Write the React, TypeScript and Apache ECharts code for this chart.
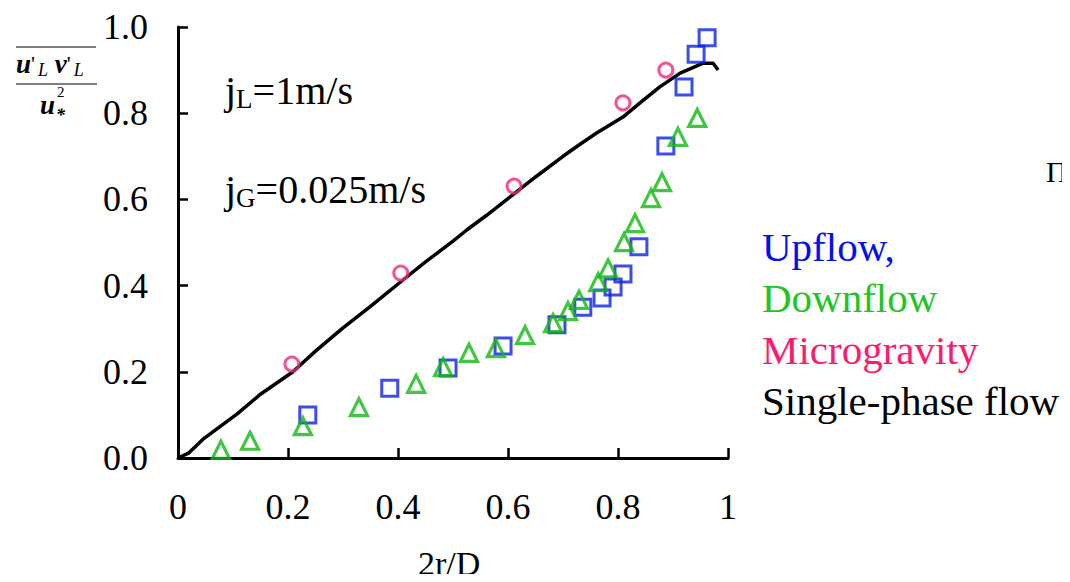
import React, { useEffect, useRef } from "react";
import * as echarts from "echarts";

const xTicks = [0, 0.2, 0.4, 0.6, 0.8, 1];
const yTicks = [0, 0.2, 0.4, 0.6, 0.8, 1.0];

const upflow: [number, number][] = [
  [0.236, 0.1], [0.385, 0.162], [0.491, 0.209], [0.591, 0.26], [0.689, 0.309],
  [0.736, 0.35], [0.771, 0.371], [0.791, 0.397], [0.809, 0.427], [0.838, 0.49],
  [0.887, 0.724], [0.92, 0.861], [0.942, 0.937], [0.962, 0.975],
];

const downflow: [number, number][] = [
  [0.078, 0.019], [0.131, 0.04], [0.227, 0.074], [0.329, 0.118], [0.433, 0.172],
  [0.482, 0.211], [0.529, 0.244], [0.578, 0.255], [0.631, 0.285], [0.682, 0.313],
  [0.709, 0.341], [0.729, 0.367], [0.764, 0.408], [0.782, 0.44], [0.811, 0.501],
  [0.831, 0.545], [0.86, 0.603], [0.88, 0.64], [0.909, 0.745], [0.944, 0.789],
];

const microgravity: [number, number][] = [
  [0.207, 0.218], [0.405, 0.429], [0.611, 0.631], [0.809, 0.824], [0.887, 0.9],
];

const singlePhase: [number, number][] = [
  [0, 0], [0.02, 0.012], [0.045, 0.043], [0.107, 0.102], [0.15, 0.148], [0.209, 0.2],
  [0.25, 0.248], [0.3, 0.302], [0.35, 0.352], [0.409, 0.413], [0.45, 0.455],
  [0.5, 0.503], [0.525, 0.529], [0.56, 0.562], [0.604, 0.606], [0.65, 0.652],
  [0.7, 0.7], [0.731, 0.728], [0.761, 0.754], [0.809, 0.791], [0.84, 0.824],
  [0.876, 0.861], [0.913, 0.893], [0.955, 0.916], [0.973, 0.916], [0.982, 0.9],
];

const legendLabels = ["Upflow,", "Downflow", "Microgravity", "Single-phase flow"];
const legendColors = ["#0010ee", "#22c422", "#ff1a6e", "#000000"];

const FONT = "'Liberation Serif', 'Times New Roman', serif";

export default function App() {
  const ref = useRef<HTMLDivElement>(null);
  useEffect(() => {
    if (!ref.current) return;
    const chart = echarts.init(ref.current, null, { renderer: "svg" });
    const hollow = (c: string, w: number) => ({
      color: "rgba(0,0,0,0)",
      borderColor: c,
      borderWidth: w,
    });
    const subRich = {
      n: { fontFamily: FONT, fontSize: 40, fill: "#000" },
      s: { fontFamily: FONT, fontSize: 27, fill: "#000", padding: [17, 0, 0, 0] },
    };
    chart.setOption({
      animation: false,
      backgroundColor: "#ffffff",
      grid: { left: 178, top: 27, width: 550, height: 431 },
      xAxis: {
        type: "value",
        min: 0,
        max: 1,
        interval: 0.2,
        splitLine: { show: false },
        axisLine: { show: true, lineStyle: { color: "#000", width: 3 } },
        axisTick: { show: true, inside: true, length: 10, lineStyle: { color: "#000", width: 2.5 } },
        axisLabel: {
          color: "#000",
          fontFamily: FONT,
          fontSize: 36,
          margin: 31,
          formatter: (v: number) => (v === 0 ? "0" : v === 1 ? "1" : v.toFixed(1)),
        },
      },
      yAxis: {
        type: "value",
        min: 0,
        max: 1,
        interval: 0.2,
        splitLine: { show: false },
        axisLine: { show: true, lineStyle: { color: "#000", width: 3 } },
        axisTick: { show: true, inside: true, length: 10, lineStyle: { color: "#000", width: 2.5 } },
        axisLabel: {
          color: "#000",
          fontFamily: FONT,
          fontSize: 36,
          margin: 30,
          formatter: (v: number) => v.toFixed(1),
        },
      },
      series: [
        {
          name: "Single-phase flow",
          type: "line",
          data: singlePhase,
          showSymbol: false,
          symbol: "none",
          lineStyle: { color: "#000", width: 3.5 },
          z: 2,
        },
        {
          name: "Microgravity",
          type: "scatter",
          data: microgravity,
          symbol: "circle",
          symbolSize: 14,
          itemStyle: hollow("#ee2a80", 3),
          z: 3,
        },
        {
          name: "Upflow",
          type: "scatter",
          data: upflow,
          symbol: "rect",
          symbolSize: 16,
          itemStyle: hollow("#0a22e6", 3),
          z: 3,
        },
        {
          name: "Downflow",
          type: "scatter",
          data: downflow,
          symbol: "triangle",
          symbolSize: 17,
          itemStyle: hollow("#12b812", 3.2),
          z: 4,
        },
      ],
      graphic: [
        {
          type: "text",
          left: 225,
          top: 70,
          style: { text: "{n|j}{s|L}{n|=1m/s}", rich: subRich },
        },
        {
          type: "text",
          left: 225,
          top: 169,
          style: { text: "{n|j}{s|G}{n|=0.025m/s}", rich: subRich },
        },
        // y axis label fraction
        {
          type: "line",
          shape: { x1: 16, y1: 47, x2: 96, y2: 47 },
          style: { stroke: "#000", lineWidth: 1.2 },
        },
        {
          type: "text",
          left: 16,
          top: 50,
          style: {
            text: "{i|u}{n|'}{s|L}{i| v}{n|'}{s|L}",
            rich: {
              i: { fontFamily: FONT, fontStyle: "italic", fontWeight: "bold", fontSize: 27, fill: "#000" },
              n: { fontFamily: FONT, fontSize: 22, fill: "#000" },
              s: { fontFamily: FONT, fontStyle: "italic", fontSize: 18, fill: "#000", padding: [12, 0, 0, 3] },
            },
          },
        },
        {
          type: "line",
          shape: { x1: 16, y1: 84, x2: 97, y2: 84 },
          style: { stroke: "#000", lineWidth: 1.2 },
        },
        {
          type: "text",
          left: 40,
          top: 91,
          style: { text: "u", fontFamily: FONT, fontStyle: "italic", fontWeight: "bold", fontSize: 27, fill: "#000" },
        },
        {
          type: "text",
          left: 57,
          top: 84,
          style: { text: "2", fontFamily: FONT, fontSize: 15, fill: "#000" },
        },
        {
          type: "text",
          left: 56,
          top: 106,
          style: { text: "*", fontFamily: FONT, fontStyle: "italic", fontWeight: "bold", fontSize: 18, fill: "#000" },
        },
        // axis title
        {
          type: "text",
          left: 418,
          top: 546,
          style: { text: "2r/D", fontFamily: FONT, fontSize: 34, fill: "#000" },
        },
        // legend texts
        ...legendLabels.map((t, i) => ({
          type: "text",
          left: 762,
          top: 226 + i * 51.5,
          style: { text: t, fontFamily: FONT, fontSize: 41, fill: legendColors[i] },
        })),
        {
          type: "text",
          left: 1046,
          top: 156,
          style: { text: "Π", fontFamily: FONT, fontSize: 30, fill: "#000" },
        },
      ],
    });
    return () => chart.dispose();
  }, []);
  return <div ref={ref} style={{ width: 1070, height: 582, margin: -8 }} />;
}
